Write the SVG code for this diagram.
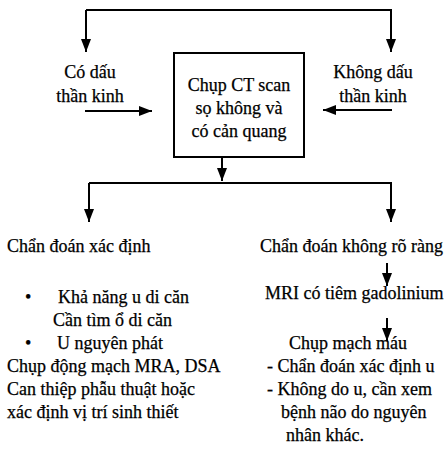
<svg xmlns="http://www.w3.org/2000/svg" width="447" height="459" viewBox="0 0 447 459">
<defs>
<marker id="ah" markerWidth="13" markerHeight="10" refX="13" refY="5" orient="auto" markerUnits="userSpaceOnUse">
<path d="M0,0 L13,5 L0,10 Z" fill="#000"/>
</marker>
</defs>
<style>
text{font-family:"Liberation Serif","Times New Roman",serif;font-size:18px;fill:#000;stroke:#000;stroke-width:0.25}
.c{text-anchor:middle}
.ln{stroke:#000;stroke-width:2;fill:none}
</style>
<rect width="447" height="459" fill="#fff"/>
<g id="connectors">
<path class="ln" d="M86,10 H391 V52" marker-end="url(#ah)"/>
<path class="ln" d="M86,10 V52" marker-end="url(#ah)"/>
<path class="ln" d="M85,111 H152" marker-end="url(#ah)"/>
<path class="ln" d="M392,110 H323" marker-end="url(#ah)"/>
<path class="ln" d="M222,157 V181" marker-end="url(#ah)"/>
<path class="ln" d="M89,183 H391 V222" marker-end="url(#ah)"/>
<path class="ln" d="M89,183 V222" marker-end="url(#ah)"/>
<path class="ln" d="M387,263 V286" marker-end="url(#ah)"/>
<path class="ln" d="M387,318 V341" marker-end="url(#ah)"/>
</g>
<g id="node-ct">
<rect x="174" y="53" width="130" height="104" fill="none" stroke="#000" stroke-width="2"/>
<text class="c" x="239" y="91">Chụp CT scan</text>
<text class="c" x="239" y="114">sọ không và</text>
<text class="c" x="239" y="137">có cản quang</text>
</g>
<g id="node-co-dau">
<text class="c" x="90" y="78">Có dấu</text>
<text class="c" x="90" y="102">thần kinh</text>
</g>
<g id="node-khong-dau">
<text class="c" x="373" y="78">Không dấu</text>
<text class="c" x="373" y="102">thần kinh</text>
</g>
<g id="node-xac-dinh">
<text x="7" y="252">Chẩn đoán xác định</text>
<text x="25" y="303">•</text>
<text x="58" y="303">Khả năng u di căn</text>
<text x="53" y="326">Cần tìm ổ di căn</text>
<text x="25" y="349">•</text>
<text x="57" y="349">U nguyên phát</text>
<text x="7" y="372">Chụp động mạch MRA, DSA</text>
<text x="7" y="395">Can thiệp phẫu thuật hoặc</text>
<text x="7" y="418">xác định vị trí sinh thiết</text>
</g>
<g id="node-khong-ro">
<text x="260" y="252">Chẩn đoán không rõ ràng</text>
</g>
<g id="node-mri">
<text x="265" y="299">MRI có tiêm gadolinium</text>
</g>
<g id="node-chup-mach">
<text class="c" x="348" y="349">Chụp mạch máu</text>
<text x="267" y="372">- Chẩn đoán xác định u</text>
<text x="267" y="395">- Không do u, cần xem</text>
<text x="281" y="418">bệnh não do nguyên</text>
<text x="286" y="441">nhân khác.</text>
</g>
</svg>
